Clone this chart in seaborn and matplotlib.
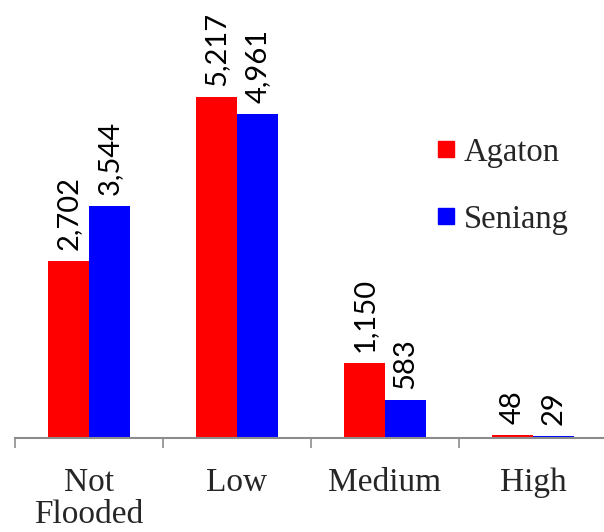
import matplotlib
matplotlib.use("Agg")
import matplotlib.pyplot as plt
from matplotlib.lines import Line2D
import seaborn as sns
import pandas as pd

# Flood classes and building counts per district
categories = ["Not\nFlooded", "Low", "Medium", "High"]
agaton = [2702, 5217, 1150, 48]
seniang = [3544, 4961, 583, 29]
series_names = ["Agaton", "Seniang"]
colors = ["#FF0000", "#0000FF"]

df = pd.DataFrame({
    "category": categories * 2,
    "count": agaton + seniang,
    "series": [series_names[0]] * len(categories) + [series_names[1]] * len(categories),
})

sns.set_style("white")
plt.rcParams["font.family"] = ["Liberation Serif", "DejaVu Serif"]

W, H = 604, 532
fig = plt.figure(figsize=(W / 100, H / 100), dpi=100)
ax = fig.add_axes([15 / W, 94 / H, 592 / W, 438 / H])

sns.barplot(data=df, x="category", y="count", hue="series",
            order=categories, hue_order=series_names, palette=colors,
            saturation=1, width=0.56, linewidth=0, ax=ax, legend=False)

ax.set_xlim(-0.5, 3.5)
ax.set_ylim(0, 6700)
ax.set_xlabel("")
ax.set_ylabel("")
ax.set_yticks([])

# value labels above each bar
for container in ax.containers:
    for bar in container:
        h = bar.get_height()
        ax.annotate(f"{int(round(h)):,}",
                    xy=(bar.get_x() + bar.get_width() / 2, h),
                    xytext=(0, 8), textcoords="offset points",
                    rotation=90, ha="center", va="bottom",
                    fontsize=21, family=["Lato", "DejaVu Sans"],
                    color="black", clip_on=False)

# category boundaries as downward ticks, names centred between them
ax.set_xticks([-0.5, 0.5, 1.5, 2.5, 3.5])
ax.set_xticklabels([])
ax.tick_params(axis="x", which="major", direction="out", length=7,
               width=1.2, color="#8C8C8C", bottom=True)
ax.set_xticks(range(len(categories)), minor=True)
ax.set_xticklabels(categories, minor=True, fontsize=24, linespacing=1.08,
                   va="top")
ax.tick_params(axis="x", which="minor", length=0, pad=21)

sns.despine(ax=ax, left=True, top=True, right=True)
ax.spines["bottom"].set_color("#8C8C8C")
ax.spines["bottom"].set_linewidth(1.5)

handles = [Line2D([], [], marker="s", linestyle="none", markersize=12,
                  markerfacecolor=c, markeredgecolor=c) for c in colors]
fig.legend(handles, series_names, loc="upper left",
           bbox_to_anchor=(436 / W, 1 - 137 / H), frameon=False,
           fontsize=23.5, handlelength=0.6, handletextpad=0.25,
           labelspacing=1.12, borderpad=0, borderaxespad=0)

fig.savefig("out.png", dpi=100)
